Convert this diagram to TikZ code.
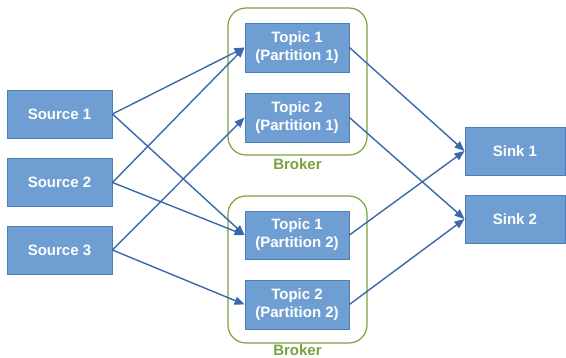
\documentclass[tikz,border=0pt]{standalone}
\usepackage{fontspec}
\setmainfont{Liberation Sans}
\usetikzlibrary{arrows.meta}
\definecolor{boxfill}{HTML}{6F9FD2}
\definecolor{boxline}{HTML}{4D7EBA}
\definecolor{arrowc}{HTML}{3A69AA}
\definecolor{brokerc}{HTML}{79A33E}
\begin{document}
\begin{tikzpicture}[x=1pt,y=-1pt,
  blk/.style={draw=boxline,fill=boxfill,line width=0.9pt,text=white,
    font=\fontsize{15}{18}\selectfont\bfseries,align=center,inner sep=0pt},
  brk/.style={draw=brokerc,line width=1.2pt,rounded corners=18pt},
  brklabel/.style={text=brokerc,font=\fontsize{15}{18}\selectfont\bfseries,
    inner sep=0pt,anchor=base},
  link/.style={draw=arrowc,line width=1.4pt,-{Triangle[length=10pt,width=8pt]}}]
\useasboundingbox (0,0) rectangle (566,358);
% brokers
\draw[brk] (228,8) rectangle (367,155);
\draw[brk] (228,196) rectangle (367,343);
\node[brklabel] (b1) at (297.5,169.5) {Broker};
\node[brklabel] (b2) at (297.5,356) {Broker};
% sources
\node[blk,minimum width=105pt,minimum height=48pt] (s1) at (59.5,114) {Source 1};
\node[blk,minimum width=105pt,minimum height=48pt] (s2) at (59.5,182.5) {Source 2};
\node[blk,minimum width=105pt,minimum height=48pt] (s3) at (59.5,250) {Source 3};
% topics
\node[blk,minimum width=104pt,minimum height=49pt] (t11) at (297,47.5) {Topic 1\\(Partition 1)};
\node[blk,minimum width=104pt,minimum height=49pt] (t21) at (297,117.5) {Topic 2\\(Partition 1)};
\node[blk,minimum width=104pt,minimum height=48pt] (t12) at (297,235) {Topic 1\\(Partition 2)};
\node[blk,minimum width=104pt,minimum height=49pt] (t22) at (297,304.5) {Topic 2\\(Partition 2)};
% sinks
\node[blk,minimum width=100pt,minimum height=48pt] (k1) at (515,151) {Sink 1};
\node[blk,minimum width=100pt,minimum height=48pt] (k2) at (515,219) {Sink 2};
% connections
\draw[link] (s1.east) -- (t11.west);
\draw[link] (s1.east) -- (t12.west);
\draw[link] (s2.east) -- (t11.west);
\draw[link] (s2.east) -- (t12.west);
\draw[link] (s3.east) -- (t21.west);
\draw[link] (s3.east) -- (t22.west);
\draw[link] (t11.east) -- (k1.west);
\draw[link] (t12.east) -- (k1.west);
\draw[link] (t21.east) -- (k2.west);
\draw[link] (t22.east) -- (k2.west);
\end{tikzpicture}
\end{document}
